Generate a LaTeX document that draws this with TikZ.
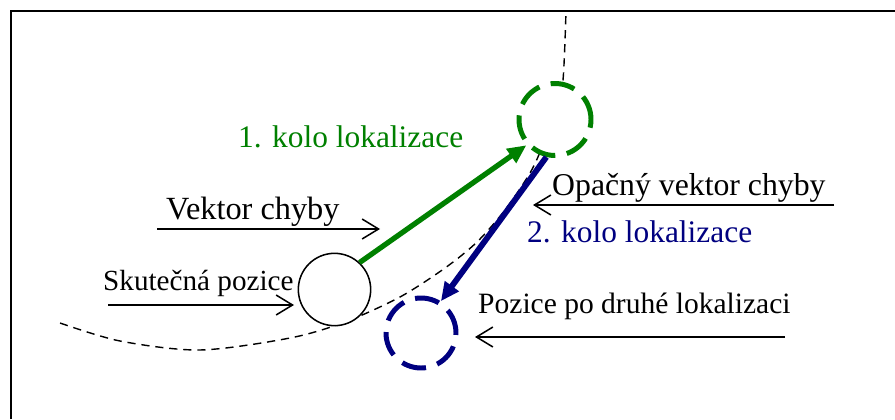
\documentclass[tikz,border=0pt]{standalone}
\usepackage{fontspec}
\setmainfont{Liberation Serif}
\usetikzlibrary{arrows.meta}
\definecolor{kolozelena}{RGB}{0,128,0}
\definecolor{kolomodra}{RGB}{0,0,128}

\begin{document}
\begin{tikzpicture}[x=0.03cm,y=-0.03cm]
		\tikzstyle{popis}=[inner sep=0pt,anchor=base west,font=\fontsize{26.8}{32}\selectfont];
		\tikzstyle{ukazatel}=[line width=1.3pt,-{Straight Barb[length=14pt,width=17pt]}];
		\tikzstyle{dosah}=[line width=1.2pt,dash pattern=on 7pt off 5pt];
		\tikzstyle{kolo}=[circle,fill=white,line width=4.25pt,dash pattern=on 21pt off 10pt];
		\tikzstyle{posun}=[line width=4.5pt,-{Triangle[length=16pt,width=14pt]}];
		\useasboundingbox (0,0) rectangle (895,419);
		\draw[line width=1.7pt] (11,419) -- (11,11) -- (895,11);
		% dosah lokalizace
		\draw[dosah] plot[smooth] coordinates {(60,323) (120,341) (200,350) (290,338) (345,322) (400,297) (445,268) (477,242) (505,210) (530,173) (543,145) (556,110) (563,80) (566,11)};
		\node[circle,draw,fill=white,line width=1.3pt,minimum size=2.17cm] (skutecna) at (334.5,289.5) {};
		\node[kolo,draw=kolozelena,minimum size=2.16cm] (prvni) at (555,119.5) {};
		\node[kolo,draw=kolomodra,minimum size=2.1cm] (druha) at (421,333) {};
		\draw[posun,kolozelena] (skutecna.47) -- (prvni.222);
		\draw[posun,kolomodra,line width=5pt] (prvni.257) -- (druha.58);
		% popisky
		\node[popis,kolozelena] (kolo1) at (238,147) {1. kolo lokalizace};
		\node[popis,font=\fontsize{27.6}{32}\selectfont] (vektor) at (166,219) {Vektor chyby};
		\node[popis,font=\fontsize{24.9}{30}\selectfont] (pozice) at (103,290) {Skutečná pozice};
		\node[popis,font=\fontsize{27.1}{32}\selectfont] (opacny) at (552,195) {Opačný vektor chyby};
		\node[popis,kolomodra] (kolo2) at (527,242) {2. kolo lokalizace};
		\node[popis,font=\fontsize{25.2}{30}\selectfont] (druhapozice) at (478,313) {Pozice po druhé lokalizaci};
		\coordinate (vektorA) at (157,229);
		\coordinate (vektorB) at (380,229);
		\coordinate (poziceA) at (108,305);
		\coordinate (poziceB) at (294,305);
		\coordinate (opacnyA) at (834,205);
		\coordinate (opacnyB) at (533,205);
		\coordinate (druhaA) at (785,337);
		\coordinate (druhaB) at (475,337);
		\draw[ukazatel] (vektorA) -- (vektorB);
		\draw[ukazatel] (poziceA) -- (poziceB);
		\draw[ukazatel] (opacnyA) -- (opacnyB);
		\draw[ukazatel] (druhaA) -- (druhaB);
\end{tikzpicture}
\end{document}
